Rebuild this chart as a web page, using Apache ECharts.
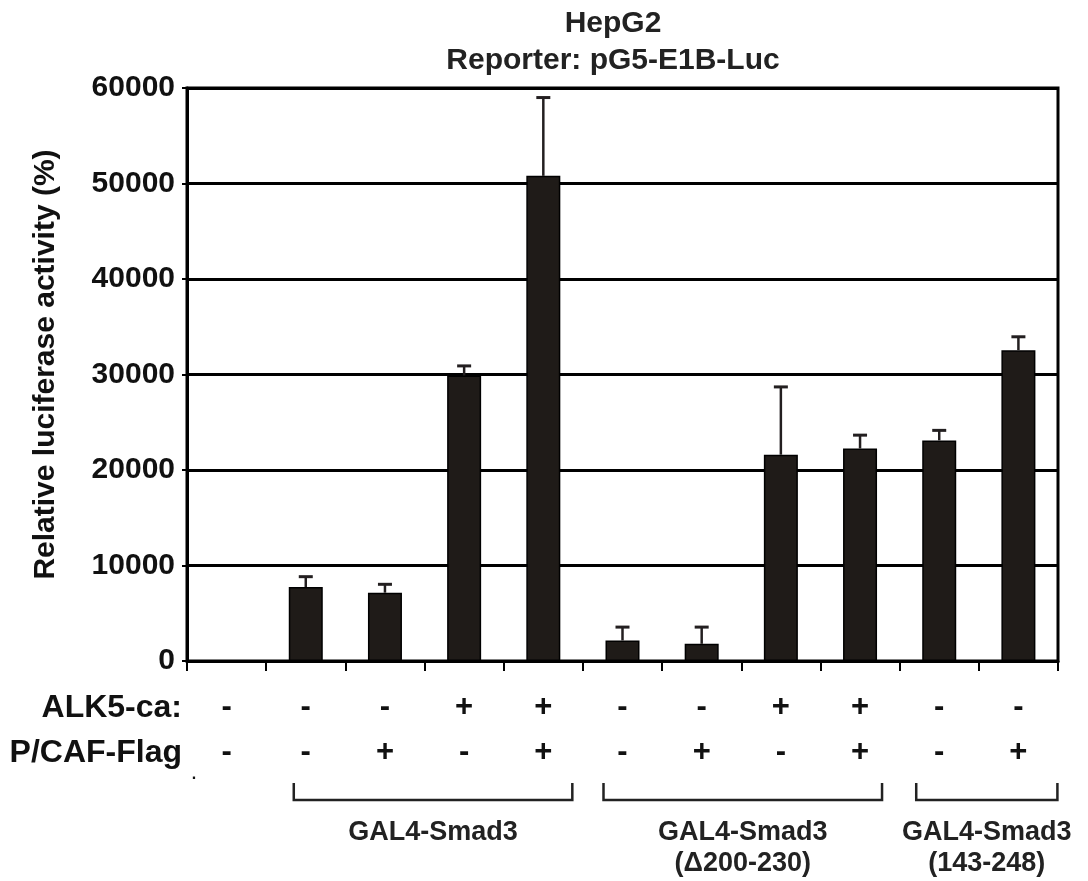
<!DOCTYPE html>
<html><head><meta charset="utf-8">
<script src="https://cdn.jsdelivr.net/npm/echarts@6/dist/echarts.min.js"></script>
<style>html,body{margin:0;padding:0;background:#fff}#c{width:1088px;height:881px}</style>
</head><body><div id="c"></div>
<script>
// ---- data ----
const lanes = ['1','2','3','4','5','6','7','8','9','10','11'];
const alk5 = ['-','-','-','+','+','-','-','+','+','-','-'];
const pcaf = ['-','-','+','-','+','-','+','-','+','-','+'];
const values = [0, 7750, 7150, 29900, 50800, 2150, 1800, 21600, 22250, 23100, 32550];
const errors = [0, 1080, 880, 1000, 8200, 1400, 1750, 7100, 1400, 1050, 1400];
const yTicks = [0, 10000, 20000, 30000, 40000, 50000, 60000];
const rowLabels = ['ALK5-ca:', 'P/CAF-Flag'];
const groupNames = ['GAL4-Smad3', 'GAL4-Smad3\n(\u0394200-230)', 'GAL4-Smad3\n(143-248)'];
const groupLanes = [[1, 4], [5, 8], [9, 10]];
const titleLines = ['HepG2', 'Reporter: pG5-E1B-Luc'];
const yName = 'Relative luciferase activity (%)';

// ---- layout ----
const FONT = '"Liberation Sans", Arial, Helvetica, sans-serif';
const INK = '#1f1b18';
const bracketPad = [[-12, 29], [-19, 22], [-23, 39]];

const chart = echarts.init(document.getElementById('c'), null, {renderer: 'canvas'});
const errData = lanes.map((l, i) => [i, values[i], errors[i]]);

chart.setOption({
  animation: false,
  backgroundColor: '#fff',
  title: {
    text: titleLines.join('\n'),
    left: 608, top: 0, textAlign: 'center',
    textStyle: {fontFamily: FONT, fontWeight: 'bold', fontSize: 30, lineHeight: 37, color: '#222'}
  },
  grid: {left: 187, right: 30, top: 88, bottom: 220, show: true, borderColor: '#000', borderWidth: 3, backgroundColor: 'transparent'},
  xAxis: {
    type: 'category', data: lanes,
    axisLine: {show: true, lineStyle: {color: '#000', width: 3}},
    axisTick: {show: true, length: 10, interval: 0, lineStyle: {color: '#000', width: 2}},
    axisLabel: {
      interval: 0, margin: 24, fontFamily: FONT, fontWeight: 'bold', fontSize: 31, lineHeight: 45, color: '#111',
      formatter: (v, i) => alk5[i] + '\n' + pcaf[i]
    },
    splitLine: {show: false}
  },
  yAxis: {
    type: 'value', min: yTicks[0], max: yTicks[yTicks.length - 1], interval: yTicks[1] - yTicks[0],
    name: yName, nameLocation: 'middle', nameGap: 126,
    nameTextStyle: {fontFamily: FONT, fontWeight: 'bold', fontSize: 30, color: '#111', padding: [0, 0, 0, 20]},
    axisLine: {show: true, lineStyle: {color: '#000', width: 3}},
    axisTick: {show: true, length: 5, lineStyle: {color: '#000', width: 2}},
    axisLabel: {margin: 12, fontFamily: FONT, fontWeight: 'bold', fontSize: 30, color: '#111', formatter: v => String(v)},
    splitLine: {show: true, lineStyle: {color: '#000', width: 3}}
  },
  series: [
    {
      type: 'bar', data: values, barWidth: 34,
      itemStyle: {color: INK, borderColor: '#000', borderWidth: 1.5},
      z: 3
    },
    {
      type: 'custom', data: errData, z: 4,
      renderItem: function (params, api) {
        const x = api.value(0), v = api.value(1), e = api.value(2);
        if (!e) return null;
        const p0 = api.coord([x, v]);
        const p1 = api.coord([x, v + e]);
        const hw = 7;
        return {
          type: 'group', children: [
            {type: 'line', shape: {x1: p0[0], y1: p0[1], x2: p1[0], y2: p1[1]}, style: {stroke: '#231f20', lineWidth: 2.5}},
            {type: 'line', shape: {x1: p1[0] - hw, y1: p1[1], x2: p1[0] + hw, y2: p1[1]}, style: {stroke: '#231f20', lineWidth: 3}}
          ]
        };
      }
    }
  ]
});

// annotations below the axis, placed from axis scale
const xc = i => chart.convertToPixel({xAxisIndex: 0}, i);
const y0 = chart.convertToPixel({yAxisIndex: 0}, 0);
const step = xc(1) - xc(0);
const leftEdge = xc(0) - step / 2;
const g = [];
rowLabels.forEach((t, r) => {
  g.push({type: 'text', x: leftEdge - 5, y: y0 + 47 + r * 45,
    style: {text: t, fill: '#111', font: 'bold 32px ' + FONT, align: 'right', verticalAlign: 'middle'}});
});
g.push({type: 'text', x: leftEdge + 7, y: y0 + 114, style: {text: '.', fill: '#111', font: 'bold 16px ' + FONT, align: 'center', verticalAlign: 'middle'}});
groupLanes.forEach((gl, k) => {
  const xa = xc(gl[0]) + bracketPad[k][0];
  const xb = xc(gl[1]) + bracketPad[k][1];
  const yt = y0 + 122, yb = y0 + 139;
  g.push({type: 'polyline', shape: {points: [[xa, yt], [xa, yb], [xb, yb], [xb, yt]]},
    style: {stroke: '#222', lineWidth: 2.5, fill: null}});
  g.push({type: 'text', x: (xa + xb) / 2, y: y0 + 156,
    style: {text: groupNames[k], fill: '#222', font: 'bold 27px ' + FONT, align: 'center', verticalAlign: 'top', lineHeight: 31}});
});
chart.setOption({graphic: g});
</script>
</body></html>
